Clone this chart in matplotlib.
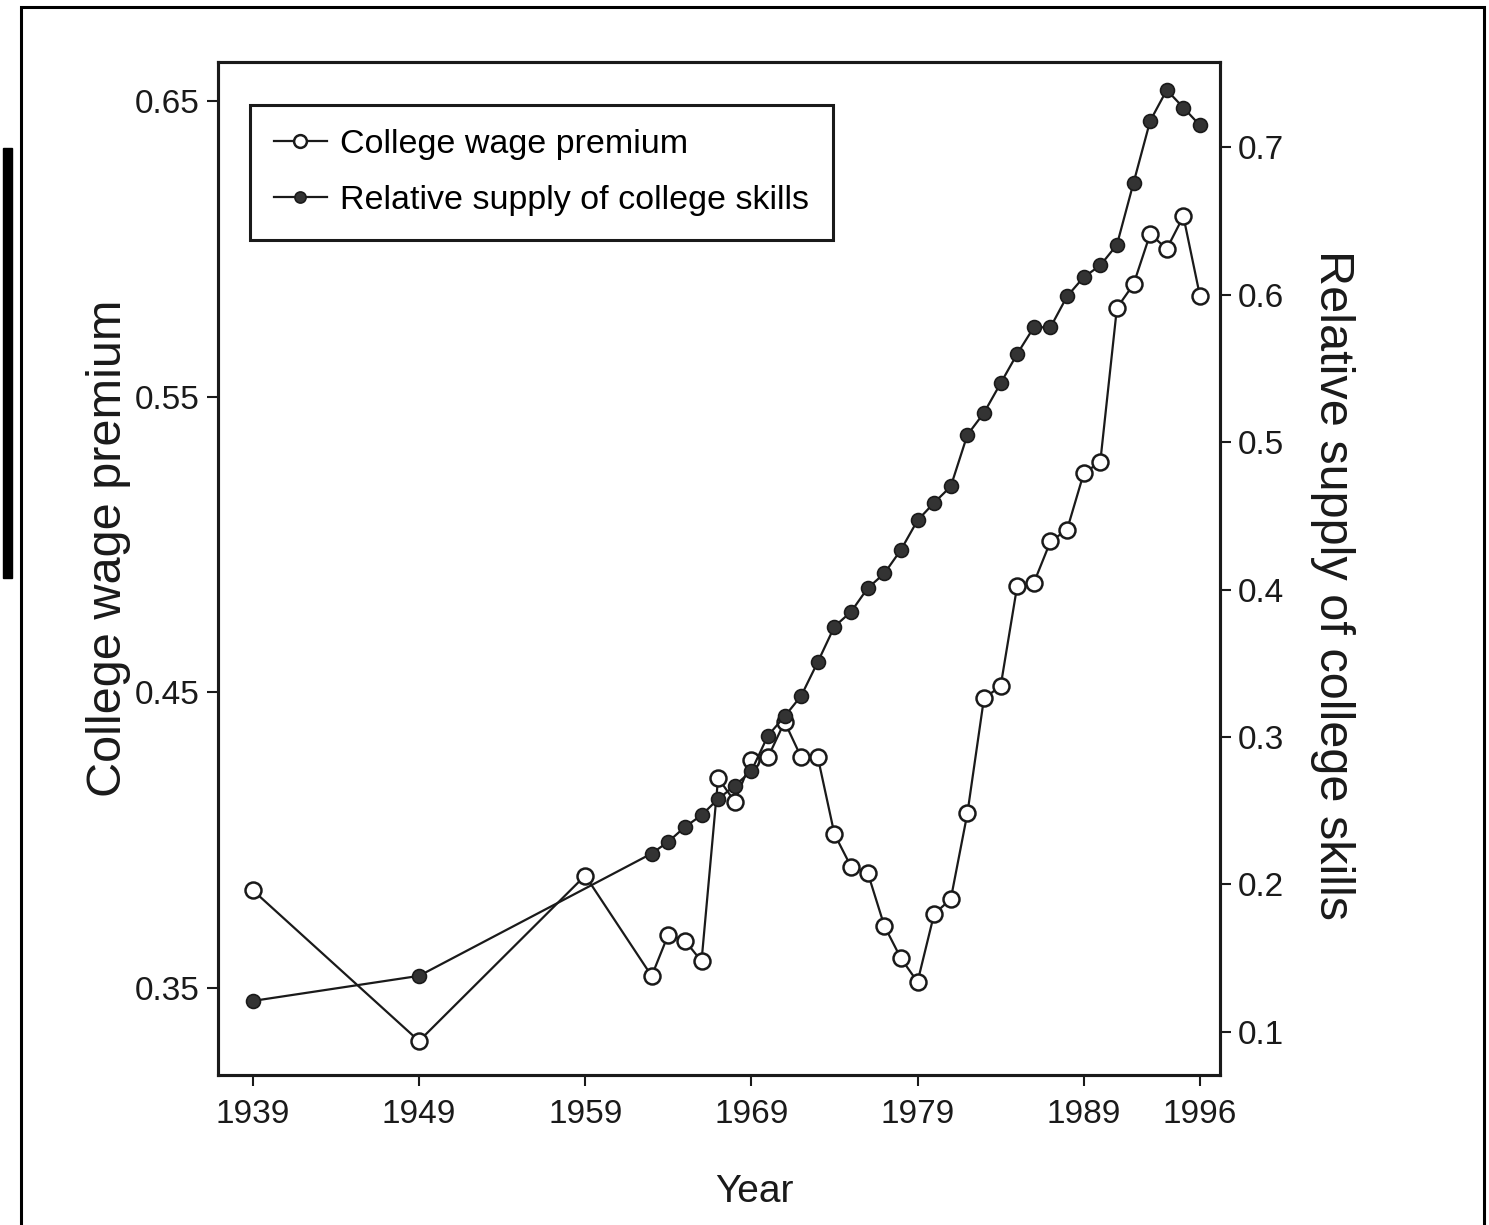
import matplotlib.pyplot as plt
from matplotlib.patches import Rectangle

# college wage premium (left axis)
wage_years = [1939, 1949, 1959] + list(range(1963, 1997))
wage = [0.383, 0.332, 0.388,
        0.354, 0.368, 0.366, 0.359, 0.421, 0.413, 0.427, 0.428, 0.440,
        0.428, 0.428, 0.402, 0.391, 0.389, 0.371, 0.360, 0.352, 0.375,
        0.380, 0.409, 0.448, 0.452, 0.486, 0.487, 0.501, 0.505, 0.524,
        0.528, 0.580, 0.588, 0.605, 0.600, 0.611, 0.584]

# relative supply of college skills (right axis)
supply_years = [1939, 1949] + list(range(1963, 1997))
supply = [0.121, 0.138,
          0.221, 0.229, 0.239, 0.247, 0.258, 0.267, 0.277, 0.301, 0.314,
          0.328, 0.351, 0.375, 0.385, 0.401, 0.411, 0.427, 0.447, 0.459,
          0.470, 0.505, 0.520, 0.540, 0.560, 0.578, 0.578, 0.599, 0.612,
          0.620, 0.634, 0.676, 0.718, 0.739, 0.727, 0.715]

x_ticks = [1939, 1949, 1959, 1969, 1979, 1989, 1996]
left_ticks = [0.35, 0.45, 0.55, 0.65]
right_ticks = [0.1, 0.2, 0.3, 0.4, 0.5, 0.6, 0.7]

font = ['Liberation Sans', 'DejaVu Sans']
ink = '#1a1a1a'


def main():
    fig = plt.figure(figsize=(14.89, 12.25), dpi=100)
    ax = fig.add_axes([0.1464, 0.1224, 0.6729, 0.827])
    ax2 = ax.twinx()

    l1, = ax.plot(wage_years, wage, '-o', color=ink, lw=1.6, ms=11.5,
                  mfc='white', mec=ink, mew=1.8, label='College wage premium')
    l2, = ax2.plot(supply_years, supply, '-o', color=ink, lw=1.6, ms=10,
                   mfc='#333333', mec=ink, mew=1.2,
                   label='Relative supply of college skills')

    ax.set_xlim(1936.9, 1997.2)
    ax.set_ylim(0.3205, 0.6632)
    ax2.set_ylim(0.0707, 0.758)

    ax.set_xticks(x_ticks)
    ax.set_xticklabels([str(y) for y in x_ticks], family=font, fontsize=24)
    ax.set_yticks(left_ticks)
    ax.set_yticklabels([f"{v:.2f}" for v in left_ticks], family=font, fontsize=24)
    ax2.set_yticks(right_ticks)
    ax2.set_yticklabels([f"{v:.1f}" for v in right_ticks], family=font, fontsize=24)

    for a in (ax, ax2):
        a.tick_params(direction='out', length=8, width=1.5, pad=5, colors=ink)
        for s in a.spines.values():
            s.set_linewidth(2.2)
            s.set_color(ink)
    ax.tick_params(axis='x', pad=9)

    ax.set_ylabel("College wage premium", family=font, fontsize=35, color=ink)
    ax.yaxis.set_label_coords(-0.087, 0.52)
    ax2.set_ylabel("Relative supply of college skills", family=font,
                   fontsize=35, color=ink, rotation=270, va='bottom')
    ax2.yaxis.set_label_coords(1.09, 0.484)
    ax.set_xlabel("Year", family=font, fontsize=28, color=ink)
    ax.xaxis.set_label_coords(0.535, -0.098)

    leg = ax2.legend(handles=[l1, l2], loc='upper left',
                     bbox_to_anchor=(0.032, 0.9576), borderaxespad=0,
                     prop={'family': font, 'size': 24.5}, fancybox=False,
                     framealpha=1, edgecolor=ink, handlelength=1.55,
                     handletextpad=0.4, labelspacing=0.75, borderpad=0.7,
                     markerscale=0.8)
    leg.get_frame().set_linewidth(2.2)

    # scan frame and side bar
    fig.add_artist(Rectangle((21 / 1489, -0.01), 1463 / 1489, 1218 / 1225 + 0.01,
                             transform=fig.transFigure, fill=False, lw=2.2,
                             color='black'))
    fig.add_artist(Rectangle((3 / 1489, 647 / 1225), 9 / 1489, 430 / 1225,
                             transform=fig.transFigure, color='black'))

    fig.savefig("out.png", dpi=100, facecolor='white')


if __name__ == "__main__":
    main()
